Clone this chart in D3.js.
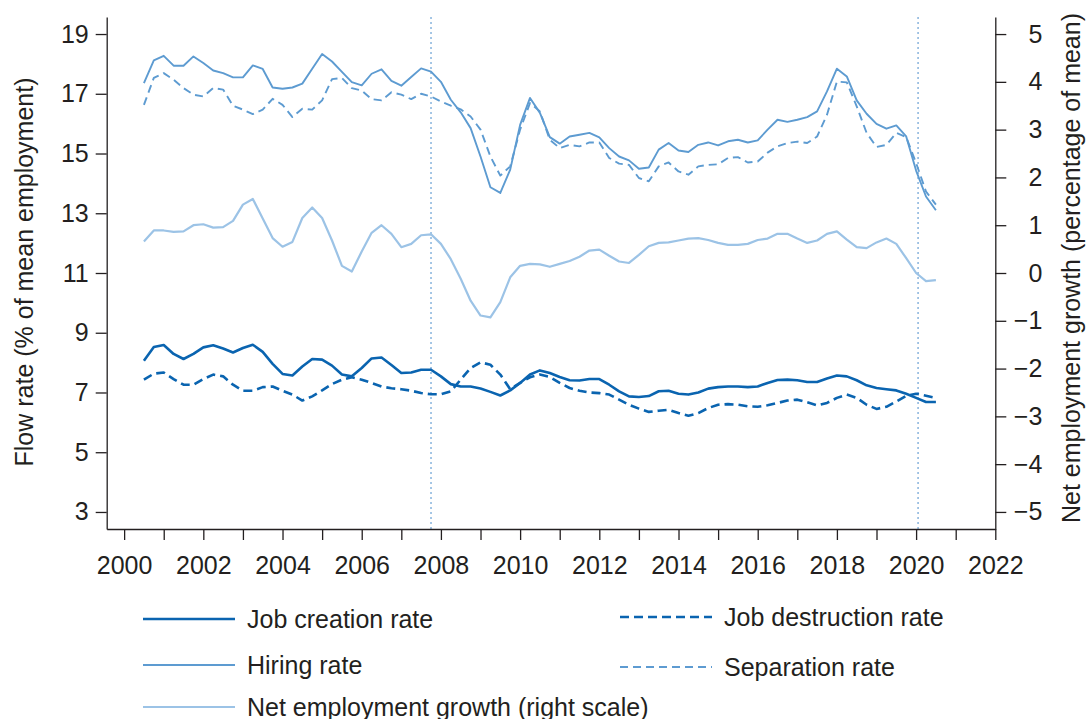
<!DOCTYPE html>
<meta charset="utf-8">
<style>
body{margin:0;background:#fff;}
svg{font-family:"Liberation Sans",Arial,sans-serif;}
.axis text{font-size:25px;fill:#231f20;}
.axis path,.axis line{stroke:#231f20;stroke-width:1.3;}
.lbl{font-size:25px;fill:#231f20;}
.series{fill:none;stroke-linejoin:round;}
</style>
<svg width="1088" height="719"></svg>
<script src="https://d3js.org/d3.v7.min.js"></script>
<script>
// quarterly, 2000Q3 - 2020Q3
var quarters = [
  "2000Q3","2000Q4","2001Q1","2001Q2","2001Q3","2001Q4","2002Q1","2002Q2","2002Q3","2002Q4",
  "2003Q1","2003Q2","2003Q3","2003Q4","2004Q1","2004Q2","2004Q3","2004Q4","2005Q1","2005Q2",
  "2005Q3","2005Q4","2006Q1","2006Q2","2006Q3","2006Q4","2007Q1","2007Q2","2007Q3","2007Q4",
  "2008Q1","2008Q2","2008Q3","2008Q4","2009Q1","2009Q2","2009Q3","2009Q4","2010Q1","2010Q2",
  "2010Q3","2010Q4","2011Q1","2011Q2","2011Q3","2011Q4","2012Q1","2012Q2","2012Q3","2012Q4",
  "2013Q1","2013Q2","2013Q3","2013Q4","2014Q1","2014Q2","2014Q3","2014Q4","2015Q1","2015Q2",
  "2015Q3","2015Q4","2016Q1","2016Q2","2016Q3","2016Q4","2017Q1","2017Q2","2017Q3","2017Q4",
  "2018Q1","2018Q2","2018Q3","2018Q4","2019Q1","2019Q2","2019Q3","2019Q4","2020Q1","2020Q2",
  "2020Q3"];

var jobCreation = [
  8.06,8.52,8.59,8.29,8.12,8.29,8.51,8.58,8.47,8.34,
  8.49,8.60,8.36,7.96,7.62,7.57,7.87,8.12,8.10,7.90,
  7.60,7.54,7.82,8.14,8.17,7.92,7.65,7.67,7.76,7.76,
  7.54,7.28,7.20,7.20,7.13,7.02,6.90,7.07,7.32,7.60,
  7.74,7.65,7.52,7.41,7.40,7.45,7.45,7.26,7.04,6.87,
  6.85,6.88,7.04,7.06,6.96,6.93,7.00,7.13,7.18,7.20,
  7.20,7.18,7.20,7.32,7.42,7.43,7.41,7.35,7.35,7.47,
  7.57,7.54,7.41,7.24,7.15,7.11,7.07,6.96,6.82,6.68,
  6.68];

var jobDestruction = [
  7.43,7.63,7.67,7.45,7.26,7.26,7.45,7.60,7.54,7.26,
  7.06,7.06,7.18,7.20,7.06,6.93,6.73,6.87,7.07,7.28,
  7.43,7.51,7.43,7.32,7.20,7.14,7.11,7.06,6.98,6.94,
  6.94,7.04,7.43,7.82,8.01,7.93,7.60,7.11,7.32,7.51,
  7.60,7.52,7.32,7.15,7.06,7.00,6.98,6.93,6.76,6.59,
  6.46,6.35,6.39,6.42,6.31,6.22,6.31,6.48,6.59,6.61,
  6.59,6.54,6.52,6.57,6.65,6.73,6.76,6.67,6.57,6.65,
  6.82,6.93,6.82,6.59,6.45,6.52,6.70,6.89,6.96,6.89,
  6.82];

var hiring = [
  17.36,18.12,18.27,17.94,17.94,18.25,18.03,17.78,17.69,17.55,
  17.55,17.95,17.83,17.21,17.17,17.21,17.34,17.84,18.33,18.08,
  17.73,17.39,17.28,17.67,17.82,17.43,17.27,17.56,17.85,17.74,
  17.40,16.80,16.38,15.85,14.90,13.87,13.68,14.46,15.96,16.86,
  16.36,15.55,15.33,15.57,15.63,15.69,15.54,15.18,14.90,14.77,
  14.49,14.53,15.13,15.35,15.10,15.05,15.29,15.37,15.27,15.41,
  15.46,15.37,15.44,15.80,16.13,16.06,16.13,16.22,16.41,17.08,
  17.84,17.58,16.78,16.33,15.99,15.83,15.94,15.57,14.43,13.56,
  13.10];

var separation = [
  16.63,17.53,17.69,17.47,17.19,16.97,16.91,17.19,17.14,16.60,
  16.47,16.32,16.47,16.83,16.63,16.22,16.50,16.47,16.78,17.49,
  17.53,17.19,17.11,16.82,16.78,17.05,16.97,16.82,17.00,16.91,
  16.74,16.60,16.48,16.24,15.80,14.90,14.26,14.57,15.80,16.69,
  16.41,15.46,15.18,15.29,15.24,15.37,15.37,14.85,14.66,14.62,
  14.18,14.07,14.57,14.70,14.40,14.29,14.57,14.62,14.64,14.85,
  14.88,14.70,14.73,15.03,15.24,15.35,15.40,15.35,15.57,16.30,
  17.41,17.38,16.58,15.69,15.22,15.29,15.69,15.55,14.68,13.73,
  13.29];

// right scale
var netGrowth = [
  0.66,0.89,0.89,0.86,0.87,1.00,1.02,0.95,0.96,1.09,
  1.43,1.55,1.14,0.73,0.55,0.65,1.15,1.37,1.15,0.68,
  0.15,0.03,0.45,0.84,1.00,0.82,0.54,0.61,0.79,0.81,
  0.61,0.29,-0.12,-0.58,-0.89,-0.93,-0.61,-0.09,0.15,0.19,
  0.18,0.13,0.19,0.25,0.34,0.47,0.49,0.36,0.24,0.21,
  0.38,0.56,0.63,0.64,0.68,0.72,0.73,0.69,0.63,0.59,
  0.59,0.61,0.69,0.72,0.82,0.82,0.72,0.63,0.68,0.82,
  0.87,0.70,0.54,0.52,0.64,0.72,0.61,0.31,0.00,-0.17,
  -0.15];

var recessionStarts = [2007.75, 2020.05];
var leftTicks = [3,5,7,9,11,13,15,17,19];
var rightTicks = [-5,-4,-3,-2,-1,0,1,2,3,4,5];
var yearTicks = d3.range(2000, 2023);
var yearLabels = [2000,2002,2004,2006,2008,2010,2012,2014,2016,2018,2020,2022];

function qToYear(q){ return +q.slice(0,4) + (+q.slice(5) - 1) / 4; }

var svg = d3.select("svg");

var x = d3.scaleLinear().domain([1999.56, 2022]).range([106.7, 995.3]);
var yL = d3.scaleLinear().domain([2.43, 19.57]).range([529, 17]);
var yR = d3.scaleLinear().domain([-5.357, 5.357]).range([529, 17]);

// recession markers
svg.selectAll(".rec")
  .data(recessionStarts)
  .enter().append("line")
  .attr("x1", function(d){ return x(d); })
  .attr("x2", function(d){ return x(d); })
  .attr("y1", 17).attr("y2", 529)
  .attr("stroke", "#8fb8df")
  .attr("stroke-width", 1.6)
  .attr("stroke-dasharray", "2,3");

var series = [
  {name: "Net employment growth (right scale)", values: netGrowth, scale: yR, color: "#9cc3e6", width: 2.2, dash: null},
  {name: "Separation rate", values: separation, scale: yL, color: "#5d9bd1", width: 1.9, dash: "8,5"},
  {name: "Hiring rate", values: hiring, scale: yL, color: "#5d9bd1", width: 1.9, dash: null},
  {name: "Job destruction rate", values: jobDestruction, scale: yL, color: "#0a64b0", width: 2.6, dash: "9,5"},
  {name: "Job creation rate", values: jobCreation, scale: yL, color: "#0a64b0", width: 2.6, dash: null}
];

series.forEach(function(s){
  var line = d3.line()
    .x(function(d, i){ return x(qToYear(quarters[i])); })
    .y(function(d){ return s.scale(d); });
  svg.append("path")
    .datum(s.values)
    .attr("class", "series")
    .attr("d", line)
    .attr("stroke", s.color)
    .attr("stroke-width", s.width)
    .attr("stroke-dasharray", s.dash);
});

// axes
svg.append("g")
  .attr("class", "axis")
  .attr("transform", "translate(106.7,0)")
  .call(d3.axisLeft(yL).tickValues(leftTicks).tickSize(11).tickSizeOuter(0).tickPadding(7));

var ra = svg.append("g")
  .attr("class", "axis")
  .attr("transform", "translate(995.3,0)")
  .call(d3.axisRight(yR).tickValues(rightTicks).tickSize(11).tickSizeOuter(0));
ra.selectAll("text").attr("x", 47).attr("text-anchor", "end");

var xa = svg.append("g")
  .attr("class", "axis")
  .attr("transform", "translate(0,529)")
  .call(d3.axisBottom(x).tickValues(yearTicks).tickSize(11).tickSizeOuter(0).tickPadding(16)
    .tickFormat(function(d){ return yearLabels.indexOf(d) >= 0 ? d : ""; }));

// axis titles
svg.append("text")
  .attr("class", "lbl")
  .attr("transform", "translate(33,272) rotate(-90)")
  .attr("text-anchor", "middle")
  .text("Flow rate (% of mean employment)");

svg.append("text")
  .attr("class", "lbl")
  .attr("transform", "translate(1080,268) rotate(-90)")
  .attr("text-anchor", "middle")
  .text("Net employment growth (percentage of mean)");

// legend
var legendPos = [
  {name: "Job creation rate", x: 143, y: 619},
  {name: "Job destruction rate", x: 620, y: 617},
  {name: "Hiring rate", x: 143, y: 665},
  {name: "Separation rate", x: 620, y: 667},
  {name: "Net employment growth (right scale)", x: 143, y: 707}
];

legendPos.forEach(function(p){
  var s = series.filter(function(d){ return d.name === p.name; })[0];
  svg.append("line")
    .attr("x1", p.x).attr("x2", p.x + 92)
    .attr("y1", p.y).attr("y2", p.y)
    .attr("stroke", s.color)
    .attr("stroke-width", s.width)
    .attr("stroke-dasharray", s.dash);
  svg.append("text")
    .attr("class", "lbl")
    .attr("x", p.x + 104)
    .attr("y", p.y)
    .attr("dy", "0.35em")
    .text(p.name);
});
</script>
